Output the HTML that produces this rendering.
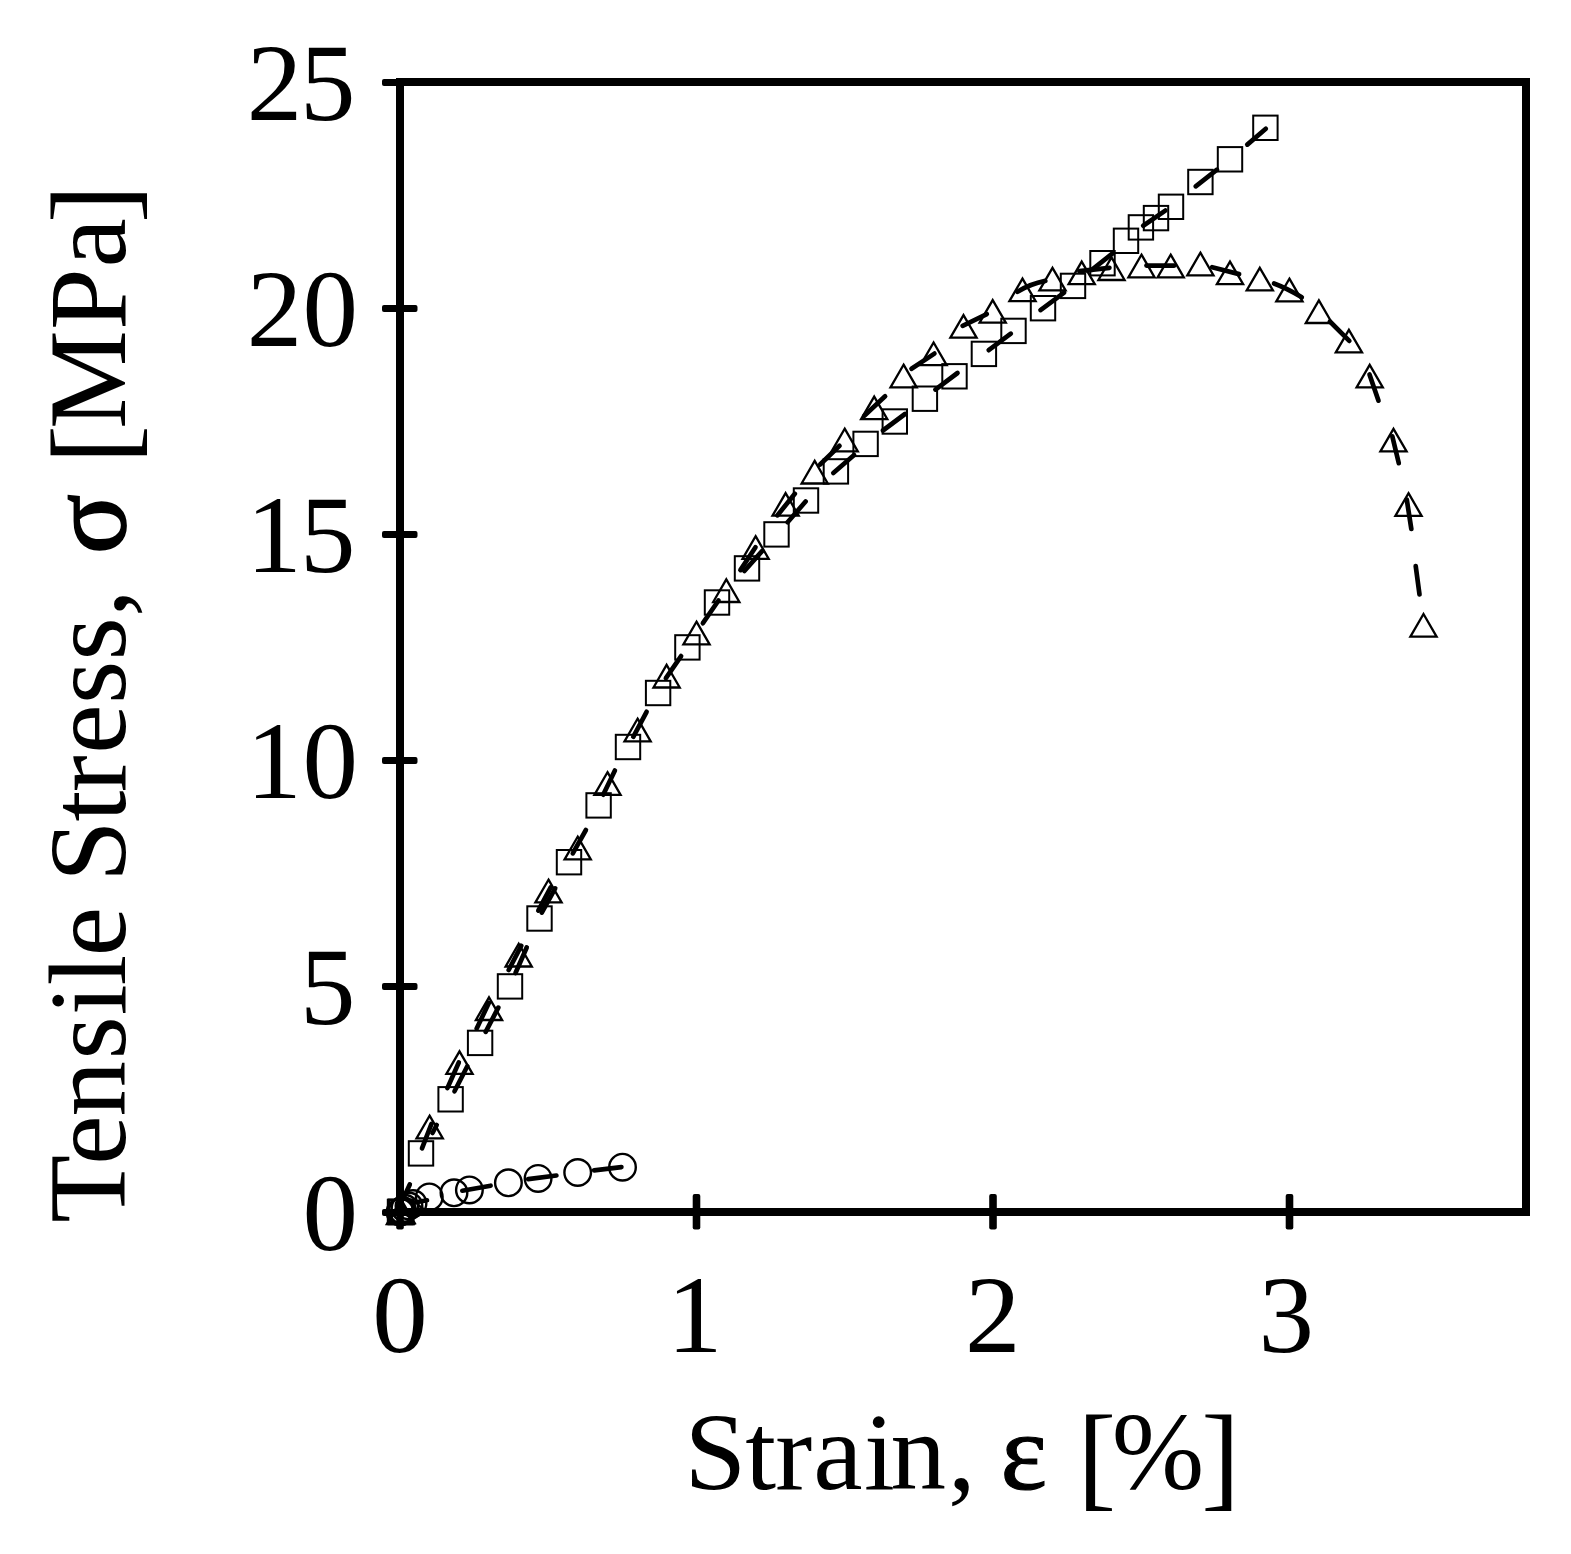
<!DOCTYPE html>
<html lang="en"><head><meta charset="utf-8"><title>Tensile Stress vs Strain</title>
<style>html,body{margin:0;padding:0;background:#fff}svg{display:block}text{font-family:"Liberation Serif", serif;font-size:111px;fill:#000}</style>
</head><body>
<svg width="1571" height="1554" viewBox="0 0 1571 1554">
<rect x="0" y="0" width="1571" height="1554" fill="#fff"/>
<g shape-rendering="crispEdges"><rect x="400" y="82" width="1126" height="1130" fill="none" stroke="#000" stroke-width="8"/></g>
<g fill="#000">
<rect x="382" y="79.0" width="35.5" height="7" rx="2"/>
<rect x="382" y="305.0" width="35.5" height="7" rx="2"/>
<rect x="382" y="531.0" width="35.5" height="7" rx="2"/>
<rect x="382" y="757.0" width="35.5" height="7" rx="2"/>
<rect x="382" y="983.0" width="35.5" height="7" rx="2"/>
<rect x="382" y="1209.0" width="35.5" height="7" rx="2"/>
<rect x="396.2" y="1194" width="7.6" height="35.5" rx="2"/>
<rect x="692.7" y="1194" width="7.6" height="35.5" rx="2"/>
<rect x="989.2" y="1194" width="7.6" height="35.5" rx="2"/>
<rect x="1285.7" y="1194" width="7.6" height="35.5" rx="2"/>
</g>
<g>
<text x="246.8 300.1" y="119.8">25</text>
<text x="246.8 302.6" y="345.8">20</text>
<text x="246.2 300.1" y="571.8">15</text>
<text x="246.2 302.6" y="797.8">10</text>
<text x="300.1" y="1023.8">5</text>
<text x="302.6" y="1249.8">0</text>
</g>
<g>
<text x="372.2" y="1351.5">0</text>
<text x="666.9" y="1351.5">1</text>
<text x="964.9" y="1351.5">2</text>
<text x="1258.6" y="1351.5">3</text>
</g>
<text y="1488.6" x="684.4 745.2 775.2 813.2 863.9 890.4 947.9 975.0 1000.6 1050.0 1077.4 1111.8 1201.2">Strain, <tspan stroke="#000" stroke-width="1.2">ε</tspan> <tspan font-size="116" dy="6">[</tspan><tspan dy="-6">%</tspan><tspan font-size="116" dy="6">]</tspan></text>
<text transform="translate(124.5,0) rotate(-90)" y="0" x="-1222.7 -1164.7 -1116.4 -1059.6 -1015.3 -985.4 -956.3 -910.0 -882.0 -821.6 -792.2 -753.7 -703.9 -660.6 -617.0 -590.0 -554.0 -495.0 -463.8 -429.1 -330.0 -267.6 -223.3">Tensile Stress, <tspan stroke="#000" stroke-width="1.8">σ</tspan> <tspan font-size="116" dy="6">[</tspan><tspan dy="-6">MPa</tspan><tspan font-size="116" dy="6">]</tspan></text>
<g fill="none" stroke="#000" stroke-width="2">
<rect x="387.8" y="1199.8" width="24.4" height="24.4"/>
<rect x="388.4" y="1199.6" width="24.4" height="24.4"/>
<rect x="389.0" y="1199.8" width="24.4" height="24.4"/>
<rect x="408.8" y="1141.2" width="24.4" height="24.4"/>
<rect x="438.4" y="1087.1" width="24.4" height="24.4"/>
<rect x="467.9" y="1030.7" width="24.4" height="24.4"/>
<rect x="497.8" y="974.2" width="24.4" height="24.4"/>
<rect x="527.3" y="906.3" width="24.4" height="24.4"/>
<rect x="556.8" y="850.0" width="24.4" height="24.4"/>
<rect x="586.4" y="793.2" width="24.4" height="24.4"/>
<rect x="615.8" y="734.8" width="24.4" height="24.4"/>
<rect x="645.9" y="680.8" width="24.4" height="24.4"/>
<rect x="675.2" y="635.2" width="24.4" height="24.4"/>
<rect x="704.8" y="590.3" width="24.4" height="24.4"/>
<rect x="734.8" y="556.2" width="24.4" height="24.4"/>
<rect x="764.3" y="522.2" width="24.4" height="24.4"/>
<rect x="793.8" y="488.3" width="24.4" height="24.4"/>
<rect x="823.7" y="459.2" width="24.4" height="24.4"/>
<rect x="853.4" y="431.7" width="24.4" height="24.4"/>
<rect x="882.6" y="409.3" width="24.4" height="24.4"/>
<rect x="912.7" y="386.5" width="24.4" height="24.4"/>
<rect x="942.3" y="364.1" width="24.4" height="24.4"/>
<rect x="971.7" y="341.7" width="24.4" height="24.4"/>
<rect x="1001.3" y="318.7" width="24.4" height="24.4"/>
<rect x="1030.8" y="296.0" width="24.4" height="24.4"/>
<rect x="1060.8" y="273.7" width="24.4" height="24.4"/>
<rect x="1090.3" y="251.0" width="24.4" height="24.4"/>
<rect x="1113.8" y="228.6" width="24.4" height="24.4"/>
<rect x="1128.7" y="215.2" width="24.4" height="24.4"/>
<rect x="1143.8" y="205.9" width="24.4" height="24.4"/>
<rect x="1158.8" y="194.6" width="24.4" height="24.4"/>
<rect x="1188.2" y="169.8" width="24.4" height="24.4"/>
<rect x="1217.8" y="147.1" width="24.4" height="24.4"/>
<rect x="1253.2" y="115.6" width="24.4" height="24.4"/>
</g>
<g fill="none" stroke="#000" stroke-width="2.3" stroke-miterlimit="10">
<path d="M400.0 1201.4L413.1 1224.0L386.9 1224.0Z"/>
<path d="M400.8 1201.0L413.9 1223.6L387.7 1223.6Z"/>
<path d="M401.6 1200.4L414.7 1223.0L388.5 1223.0Z"/>
<path d="M429.6 1115.7L442.8 1138.3L416.5 1138.3Z"/>
<path d="M459.5 1051.3L472.6 1073.9L446.4 1073.9Z"/>
<path d="M489.0 997.4L502.1 1020.0L475.9 1020.0Z"/>
<path d="M518.7 943.9L531.8 966.5L505.6 966.5Z"/>
<path d="M548.5 879.7L561.6 902.3L535.4 902.3Z"/>
<path d="M577.7 836.7L590.8 859.3L564.6 859.3Z"/>
<path d="M607.5 772.2L620.6 794.8L594.4 794.8Z"/>
<path d="M637.6 718.7L650.7 741.3L624.5 741.3Z"/>
<path d="M666.6 664.9L679.7 687.5L653.5 687.5Z"/>
<path d="M696.5 621.7L709.6 644.3L683.4 644.3Z"/>
<path d="M726.3 579.4L739.4 602.0L713.2 602.0Z"/>
<path d="M755.6 536.2L768.7 558.8L742.5 558.8Z"/>
<path d="M785.6 493.1L798.7 515.7L772.5 515.7Z"/>
<path d="M814.7 460.9L827.8 483.5L801.6 483.5Z"/>
<path d="M844.7 428.7L857.8 451.3L831.6 451.3Z"/>
<path d="M874.2 396.6L887.3 419.2L861.1 419.2Z"/>
<path d="M903.6 364.7L916.7 387.3L890.5 387.3Z"/>
<path d="M933.6 342.5L946.7 365.1L920.5 365.1Z"/>
<path d="M963.5 315.1L976.6 337.7L950.4 337.7Z"/>
<path d="M992.7 300.1L1005.8 322.7L979.6 322.7Z"/>
<path d="M1022.5 278.6L1035.6 301.2L1009.4 301.2Z"/>
<path d="M1052.5 267.8L1065.6 290.4L1039.4 290.4Z"/>
<path d="M1081.7 261.6L1094.8 284.2L1068.6 284.2Z"/>
<path d="M1111.5 257.4L1124.6 280.0L1098.4 280.0Z"/>
<path d="M1141.5 254.7L1154.6 277.3L1128.4 277.3Z"/>
<path d="M1170.7 254.7L1183.8 277.3L1157.6 277.3Z"/>
<path d="M1200.4 252.7L1213.5 275.3L1187.3 275.3Z"/>
<path d="M1230.0 261.6L1243.1 284.2L1216.9 284.2Z"/>
<path d="M1259.8 267.8L1272.9 290.4L1246.7 290.4Z"/>
<path d="M1289.4 278.7L1302.5 301.3L1276.3 301.3Z"/>
<path d="M1318.9 300.4L1332.0 323.0L1305.8 323.0Z"/>
<path d="M1348.9 329.8L1362.0 352.4L1335.8 352.4Z"/>
<path d="M1369.7 364.8L1382.8 387.4L1356.6 387.4Z"/>
<path d="M1393.5 428.8L1406.6 451.4L1380.4 451.4Z"/>
<path d="M1408.5 493.2L1421.6 515.8L1395.4 515.8Z"/>
<path d="M1423.5 614.0L1436.6 636.6L1410.4 636.6Z"/>
</g>
<g fill="none" stroke="#000" stroke-width="2.4">
<circle cx="400.0" cy="1212.0" r="13.3"/>
<circle cx="401.2" cy="1211.4" r="13.3"/>
<circle cx="402.6" cy="1210.4" r="13.3"/>
<circle cx="405.0" cy="1208.3" r="13.3"/>
<circle cx="409.0" cy="1206.0" r="13.3"/>
<circle cx="413.0" cy="1203.5" r="13.3"/>
<circle cx="429.3" cy="1196.9" r="13.3"/>
<circle cx="454.0" cy="1192.8" r="13.3"/>
<circle cx="469.4" cy="1189.9" r="13.3"/>
<circle cx="508.4" cy="1182.8" r="13.3"/>
<circle cx="538.1" cy="1178.4" r="13.3"/>
<circle cx="577.7" cy="1172.5" r="13.3"/>
<circle cx="622.5" cy="1167.2" r="13.3"/>
</g>
<g fill="none" stroke="#000" stroke-width="4.7" stroke-linecap="round">
<line x1="404.7" y1="1195.5" x2="409.8" y2="1184.5"/>
<line x1="422.0" y1="1148.3" x2="431.4" y2="1124.0"/>
<line x1="432.5" y1="1133.0" x2="436.7" y2="1125.0"/>
<line x1="447.4" y1="1088.1" x2="458.8" y2="1062.5"/>
<line x1="454.5" y1="1091.3" x2="467.3" y2="1066.3"/>
<line x1="476.7" y1="1028.6" x2="488.8" y2="1002.9"/>
<line x1="485.7" y1="1031.8" x2="498.3" y2="1007.6"/>
<line x1="508.7" y1="970.0" x2="521.2" y2="945.8"/>
<line x1="515.5" y1="973.0" x2="526.7" y2="947.5"/>
<line x1="538.3" y1="910.6" x2="550.7" y2="887.4"/>
<line x1="541.8" y1="912.6" x2="555.2" y2="888.4"/>
<line x1="572.8" y1="853.4" x2="585.9" y2="830.0"/>
<line x1="603.2" y1="794.7" x2="614.9" y2="770.5"/>
<line x1="633.3" y1="736.8" x2="646.6" y2="711.8"/>
<line x1="665.9" y1="678.2" x2="681.1" y2="656.1"/>
<line x1="702.9" y1="623.2" x2="718.5" y2="600.5"/>
<line x1="740.4" y1="570.1" x2="755.5" y2="547.2"/>
<line x1="744.4" y1="570.9" x2="762.3" y2="550.9"/>
<line x1="777.5" y1="515.3" x2="794.8" y2="493.8"/>
<line x1="787.6" y1="522.3" x2="805.6" y2="501.5"/>
<line x1="820.1" y1="464.5" x2="839.5" y2="445.8"/>
<line x1="833.3" y1="473.0" x2="854.1" y2="455.0"/>
<line x1="882.9" y1="430.5" x2="905.0" y2="414.0"/>
<line x1="935.4" y1="389.6" x2="957.5" y2="373.0"/>
<line x1="988.7" y1="350.2" x2="1010.8" y2="333.7"/>
<line x1="1040.5" y1="310.1" x2="1064.1" y2="292.6"/>
<line x1="864.3" y1="415.7" x2="885.1" y2="396.3"/>
<line x1="911.5" y1="368.8" x2="934.4" y2="353.6"/>
<line x1="962.6" y1="325.8" x2="986.8" y2="314.1"/>
<line x1="1092.1" y1="269.7" x2="1112.9" y2="253.1"/>
<line x1="1143.2" y1="225.7" x2="1165.3" y2="210.6"/>
<line x1="1195.7" y1="186.3" x2="1217.0" y2="169.7"/>
<line x1="1247.3" y1="144.6" x2="1265.8" y2="128.8"/>
<line x1="1079.4" y1="271.2" x2="1109.4" y2="267.8"/>
<line x1="1146.5" y1="265.6" x2="1174.2" y2="265.6"/>
<line x1="1212.2" y1="267.2" x2="1239.1" y2="274.1"/>
<line x1="1329.9" y1="321.5" x2="1349.3" y2="340.9"/>
<line x1="1369.5" y1="374.4" x2="1378.5" y2="400.7"/>
<line x1="1392.3" y1="436.3" x2="1398.8" y2="463.2"/>
<line x1="1406.8" y1="499.6" x2="1411.3" y2="528.9"/>
<line x1="1415.7" y1="566.0" x2="1419.5" y2="594.5"/>
<line x1="462.3" y1="1190.7" x2="490.6" y2="1185.7"/>
<line x1="528.2" y1="1179.1" x2="556.4" y2="1175.5"/>
<line x1="594.1" y1="1170.3" x2="621.4" y2="1167.1"/>
<line x1="413.6" y1="1202.7" x2="427.0" y2="1200.3"/>
<path d="M1017.5 291.7Q1030.0 284.0 1045.3 280.9"/>
<path d="M1274.0 283.5Q1286.3 288.0 1301.8 297.2"/>
</g>
</svg>
</body></html>
